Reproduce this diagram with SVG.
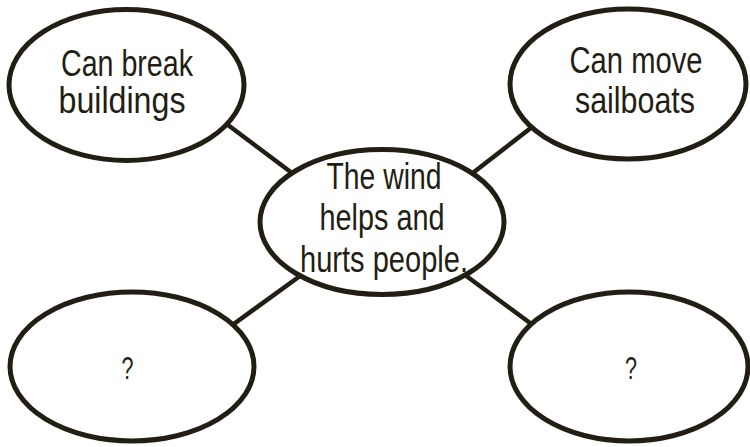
<svg xmlns="http://www.w3.org/2000/svg" width="750" height="447" viewBox="0 0 750 447">
<style>
.bg{fill:#ffffff}
.conn line{stroke:#231e14;stroke-width:4.5;stroke-linecap:butt}
.node ellipse{fill:#ffffff;stroke:#231e14;stroke-width:5}
.node text{font-family:"Liberation Sans","Noto Sans",Arial,sans-serif;font-size:36px;fill:#231e14;text-anchor:middle}
.node text.q{font-size:32px}
</style>
<rect class="bg" x="0" y="0" width="750" height="447"/>
<g id="connectors" class="conn">
<line x1="220" y1="119" x2="300" y2="179"/>
<line x1="465" y1="179" x2="545" y2="117"/>
<line x1="300" y1="276" x2="220" y2="334"/>
<line x1="465" y1="275" x2="545" y2="334"/>
</g>
<g id="node-tl" class="node">
<ellipse cx="126.5" cy="85" rx="117.5" ry="75.5"/>
<text x="127" y="76" textLength="132" lengthAdjust="spacingAndGlyphs">Can break</text>
<text x="122" y="113" textLength="127" lengthAdjust="spacingAndGlyphs">buildings</text>
</g>
<g id="node-tr" class="node">
<ellipse cx="628" cy="84" rx="118" ry="75"/>
<text x="636" y="73" textLength="133" lengthAdjust="spacingAndGlyphs">Can move</text>
<text x="635" y="113" textLength="120" lengthAdjust="spacingAndGlyphs">sailboats</text>
</g>
<g id="node-center" class="node">
<ellipse cx="382" cy="222" rx="122" ry="72.5"/>
<text x="384" y="189" textLength="115" lengthAdjust="spacingAndGlyphs">The wind</text>
<text x="382" y="230" textLength="125" lengthAdjust="spacingAndGlyphs">helps and</text>
<text x="384" y="272" textLength="168" lengthAdjust="spacingAndGlyphs">hurts people.</text>
</g>
<g id="node-bl" class="node">
<ellipse cx="132" cy="366.5" rx="122" ry="74.5"/>
<text class="q" x="127.5" y="379" textLength="12" lengthAdjust="spacingAndGlyphs">?</text>
</g>
<g id="node-br" class="node">
<ellipse cx="629" cy="366.5" rx="119" ry="74.5"/>
<text class="q" x="631" y="379" textLength="12" lengthAdjust="spacingAndGlyphs">?</text>
</g>
</svg>
